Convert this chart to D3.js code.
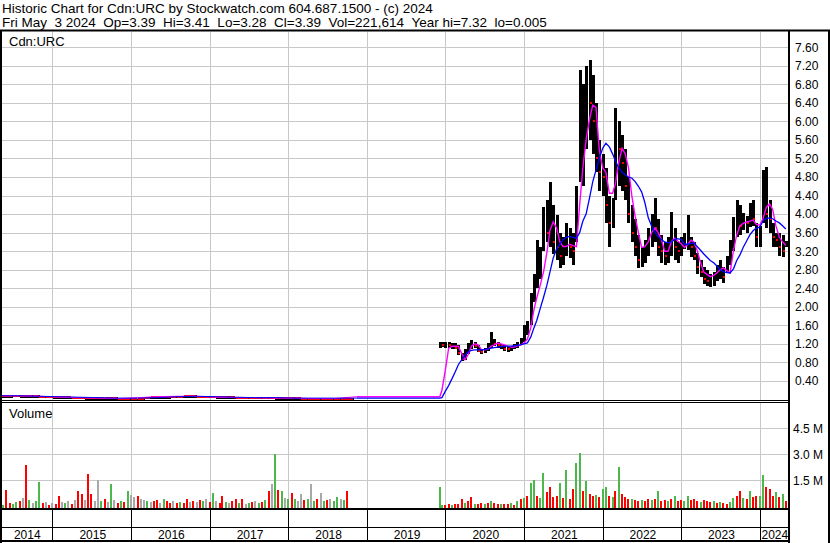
<!DOCTYPE html>
<html><head><meta charset="utf-8">
<script src="https://cdn.jsdelivr.net/npm/d3@7"></script>
<style>
body{margin:0;background:#fff}
svg{display:block}
text{font-family:"Liberation Sans",Arial,Helvetica,sans-serif;fill:#000}
</style></head>
<body><svg id="c" width="830" height="543"></svg>
<script>
// ---------------- DATA ----------------
const header1 = "Historic Chart for Cdn:URC by Stockwatch.com 604.687.1500 - (c) 2024";
const header2 = "Fri May  3 2024  Op=3.39  Hi=3.41  Lo=3.28  Cl=3.39  Vol=221,614  Year hi=7.32  lo=0.005";
const symbolLabel = "Cdn:URC";
const volumeLabel = "Volume";
const priceTicks = [0.4,0.8,1.2,1.6,2.0,2.4,2.8,3.2,3.6,4.0,4.4,4.8,5.2,5.6,6.0,6.4,6.8,7.2,7.6];
const volTicks = [1.5,3.0,4.5];
const volTickLabels = ["1.5 M","3.0 M","4.5 M"];
const years = [2014,2015,2016,2017,2018,2019,2020,2021,2022,2023,2024];

// early period (monthly price from 2014-05, semi-monthly volume from 2014-05-01)
const earlyHi = [0.10,0.09,0.10,0.09,0.10,0.09,0.08,0.08,
  0.07,0.06,0.06,0.06,0.05,0.05,0.05,0.04,0.04,0.05,0.03,0.03,
  0.02,0.03,0.05,0.06,0.06,0.07,0.07,0.08,0.09,0.09,0.08,0.08,
  0.08,0.07,0.07,0.06,0.06,0.06,0.05,0.06,0.06,0.05,0.05,0.05,
  0.05,0.04,0.04,0.04,0.03,0.03,0.03,0.03,0.03,0.03];
const earlyLo = [0.06,0.06,0.07,0.06,0.06,0.05,0.05,0.05,
  0.04,0.04,0.04,0.03,0.03,0.02,0.02,0.02,0.02,0.02,0.01,0.01,
  0.01,0.01,0.03,0.04,0.04,0.04,0.05,0.05,0.06,0.06,0.05,0.05,
  0.05,0.04,0.04,0.04,0.03,0.03,0.03,0.03,0.03,0.03,0.02,0.02,
  0.02,0.02,0.01,0.01,0.01,0.01,0.01,0.01,0.01,0.01];
const earlyCl = [0.08,0.07,0.08,0.07,0.08,0.07,0.06,0.06,
  0.05,0.05,0.05,0.04,0.04,0.03,0.03,0.03,0.03,0.03,0.02,0.02,
  0.01,0.02,0.04,0.05,0.05,0.05,0.06,0.06,0.07,0.07,0.06,0.06,
  0.06,0.05,0.05,0.05,0.04,0.04,0.04,0.04,0.04,0.04,0.03,0.03,
  0.03,0.03,0.02,0.02,0.02,0.02,0.02,0.02,0.02,0.02];
const earlyVol = [0.15,0.10,0.94,0.20,0.15,0.25,0.30,0.50,2.38,0.35,0.20,0.30,1.38,0.20,0.25,0.10,
  0.20,0.15,0.60,0.25,0.20,0.30,0.15,0.35,0.90,0.70,0.35,1.85,0.70,0.30,1.52,0.30,0.40,0.25,1.27,0.35,0.20,0.30,0.25,0.90,
  0.65,0.55,0.60,0.45,0.35,0.30,0.25,0.30,0.35,0.20,0.45,0.30,0.20,0.30,0.20,0.25,0.20,0.40,0.25,0.30,0.25,0.35,0.30,0.45,
  0.25,0.75,0.30,0.20,0.60,0.25,0.20,0.30,0.40,0.20,0.40,0.15,0.20,0.25,0.30,0.20,0.25,0.35,0.86,1.27,3.00,0.95,0.90,0.50,
  0.40,0.75,0.40,0.30,0.70,0.35,0.45,1.27,0.30,0.40,0.75,0.30,0.35,0.40,0.30,0.55,0.40,0.35,0.86];
const earlyDir = [-1,1,-1,-1,1,1,-1,0,-1,1,0,1,1,-1,0,-1,
  0,-1,-1,0,1,0,-1,0,-1,-1,0,-1,-1,0,0,1,-1,0,1,0,-1,1,-1,1,
  0,0,-1,0,0,1,0,-1,-1,0,1,-1,-1,0,-1,1,-1,-1,0,-1,0,-1,1,0,
  -1,1,0,-1,-1,1,0,-1,-1,1,-1,0,1,-1,0,1,-1,1,-1,0,1,-1,1,0,
  1,-1,1,0,0,-1,1,0,1,-1,0,1,-1,0,1,1,0,1,-1];
// early moving averages (quarterly from 2014-05) + flat gap level
const earlyMagenta = [0.08,0.08,0.07,0.05,0.04,0.03,0.02,0.04,0.06,0.07,0.07,0.05,0.04,0.04,0.03,0.03,0.02,0.02,0.06];
const earlyBlue    = [0.08,0.08,0.07,0.06,0.05,0.04,0.03,0.03,0.04,0.06,0.07,0.06,0.05,0.04,0.04,0.03,0.03,0.03,0.03];

// Cdn:URC period (semi-monthly from 2019-12-06)
const lateDates = ["2019-12-06","2019-12-16",
 "2020-01-01","2020-01-16","2020-02-01","2020-02-16","2020-03-01","2020-03-16","2020-04-01","2020-04-16","2020-05-01","2020-05-16","2020-06-01","2020-06-16",
 "2020-07-01","2020-07-16","2020-08-01","2020-08-16","2020-09-01","2020-09-16","2020-10-01","2020-10-16","2020-11-01","2020-11-16","2020-12-01","2020-12-16",
 "2021-01-01","2021-01-16","2021-02-01","2021-02-16","2021-03-01","2021-03-16","2021-04-01","2021-04-16","2021-05-01","2021-05-16","2021-06-01","2021-06-16",
 "2021-07-01","2021-07-16","2021-08-01","2021-08-16","2021-09-01","2021-09-16","2021-10-01","2021-10-16","2021-11-01","2021-11-16","2021-12-01","2021-12-16",
 "2022-01-01","2022-01-16","2022-02-01","2022-02-16","2022-03-01","2022-03-16","2022-04-01","2022-04-16","2022-05-01","2022-05-16","2022-06-01","2022-06-16",
 "2022-07-01","2022-07-16","2022-08-01","2022-08-16","2022-09-01","2022-09-16","2022-10-01","2022-10-16","2022-11-01","2022-11-16","2022-12-01","2022-12-16",
 "2023-01-01","2023-01-16","2023-02-01","2023-02-16","2023-03-01","2023-03-16","2023-04-01","2023-04-16","2023-05-01","2023-05-16","2023-06-01","2023-06-16",
 "2023-07-01","2023-07-16","2023-08-01","2023-08-16","2023-09-01","2023-09-16","2023-10-01","2023-10-16","2023-11-01","2023-11-16","2023-12-01","2023-12-16",
 "2024-01-01","2024-01-16","2024-02-01","2024-02-16","2024-03-01","2024-03-16","2024-04-01","2024-04-16","2024-05-01"];
const lateHi = [1.25,1.25,
 1.25,1.24,1.22,1.22,1.18,1.00,1.10,1.22,1.28,1.25,1.18,1.10,1.12,1.22,1.46,1.30,1.25,1.20,1.18,1.15,1.15,1.20,1.25,1.32,
 1.60,1.70,2.30,2.70,3.45,3.30,4.15,4.30,4.70,4.20,3.98,3.60,3.50,3.80,3.70,3.60,4.60,7.10,6.80,7.20,7.32,7.00,6.40,5.60,
 5.30,5.00,4.40,4.35,6.30,6.00,5.70,5.40,4.80,4.20,3.90,3.55,3.30,3.45,3.70,4.00,4.35,3.90,3.55,3.40,3.50,4.05,3.70,3.40,
 3.50,3.60,3.98,3.50,3.40,3.16,3.00,2.86,2.80,2.70,2.75,2.90,3.00,2.85,3.10,3.44,3.94,4.30,4.20,4.02,3.95,4.25,4.30,3.80,
 3.75,4.95,5.02,4.30,3.81,3.60,3.59,3.55,3.41];
const lateLo = [1.12,1.14,
 1.12,1.12,1.10,1.08,0.95,0.82,0.85,0.98,1.10,1.12,1.02,0.98,1.00,1.05,1.12,1.15,1.12,1.10,1.05,1.02,1.05,1.08,1.12,1.18,
 1.25,1.40,1.60,2.10,2.40,2.60,3.20,3.40,3.30,3.15,3.00,2.84,2.90,3.10,3.05,2.90,3.40,4.70,4.60,5.40,5.60,5.30,4.90,4.50,
 4.40,3.80,3.30,3.70,4.30,4.60,4.50,4.30,3.80,3.40,3.10,2.84,2.85,2.95,3.10,3.30,3.40,3.10,2.95,2.90,2.95,3.10,3.00,2.95,
 3.10,3.25,3.22,3.07,3.00,2.70,2.64,2.50,2.45,2.43,2.45,2.55,2.60,2.51,2.73,2.90,3.20,3.50,3.55,3.66,3.60,3.72,3.75,3.29,
 3.29,3.80,3.70,3.59,3.29,3.30,3.10,3.07,3.28];
const lateCl = [1.20,1.18,
 1.20,1.17,1.18,1.12,1.00,0.88,1.05,1.15,1.20,1.15,1.05,1.03,1.08,1.15,1.25,1.20,1.18,1.15,1.10,1.08,1.12,1.15,1.20,1.28,
 1.50,1.55,2.10,2.50,2.70,3.00,3.80,3.60,3.90,3.40,3.30,3.10,3.30,3.50,3.30,3.20,4.40,5.50,5.80,6.50,6.40,6.00,5.20,4.90,
 4.80,4.20,3.80,4.10,5.60,5.40,5.10,4.60,4.00,3.60,3.30,3.00,3.10,3.30,3.50,3.80,3.70,3.30,3.20,3.10,3.30,3.60,3.30,3.20,
 3.30,3.40,3.50,3.30,3.10,2.85,2.75,2.60,2.55,2.55,2.65,2.75,2.80,2.65,2.90,3.20,3.70,3.80,3.75,3.85,3.80,4.00,3.90,3.50,
 3.60,4.60,4.00,3.90,3.50,3.45,3.30,3.20,3.39];
const lateMagenta = [0.06,0.20,
 0.64,1.10,1.15,1.15,1.15,1.00,0.86,0.97,1.15,1.20,1.18,1.08,1.07,1.08,1.15,1.18,1.22,1.20,1.18,1.15,1.13,1.13,1.16,1.18,
 1.22,1.30,1.55,1.95,2.20,2.45,2.75,3.15,3.65,3.83,3.70,3.40,3.30,3.30,3.35,3.32,3.30,4.20,5.00,5.60,6.05,6.35,6.30,5.40,
 5.00,4.90,4.45,4.45,4.65,5.10,5.42,5.30,5.00,4.41,3.95,3.60,3.28,3.30,3.40,3.60,3.70,3.60,3.45,3.20,3.20,3.40,3.48,3.42,
 3.36,3.28,3.35,3.44,3.40,3.22,2.95,2.75,2.70,2.65,2.68,2.73,2.80,2.84,2.78,2.73,3.22,3.55,3.75,3.80,3.83,3.85,3.87,3.78,
 3.76,3.90,4.15,4.22,4.10,3.75,3.50,3.40,3.33];
const lateBlue = [0.03,0.04,
 0.18,0.30,0.45,0.60,0.75,0.85,0.95,1.03,1.06,1.07,1.07,1.07,1.08,1.09,1.11,1.12,1.13,1.14,1.15,1.15,1.15,1.16,1.17,1.18,
 1.20,1.22,1.35,1.55,1.71,1.95,2.20,2.45,2.75,3.05,3.25,3.35,3.45,3.50,3.52,3.50,3.48,3.60,3.85,4.00,4.35,4.70,4.95,5.20,
 5.42,5.53,5.45,5.30,5.15,5.00,4.90,4.85,4.80,4.78,4.70,4.60,4.48,4.25,3.92,3.75,3.60,3.52,3.45,3.40,3.38,3.40,3.45,3.47,
 3.45,3.35,3.35,3.37,3.38,3.30,3.22,3.14,3.07,3.00,2.95,2.88,2.80,2.76,2.74,2.73,2.82,3.00,3.12,3.28,3.42,3.55,3.64,3.70,
 3.72,3.85,3.91,3.92,3.90,3.85,3.81,3.75,3.68];
const lateVol = [1.14,0.08,
 0.10,0.12,0.10,0.12,0.15,0.40,0.20,0.30,0.52,0.15,0.12,0.20,0.15,0.18,0.30,0.20,0.15,0.12,0.15,0.12,0.18,0.10,0.30,0.40,
 0.50,0.60,1.33,1.50,0.60,0.50,1.90,0.80,1.14,0.55,0.60,1.35,0.50,2.10,0.40,1.00,2.50,3.10,0.90,1.45,0.70,0.60,0.65,0.55,
 1.00,1.14,0.60,0.55,0.90,2.25,0.70,0.55,0.40,0.45,0.35,0.30,0.35,0.30,0.40,0.35,0.45,0.88,0.30,0.35,0.30,0.45,0.60,0.30,
 0.35,0.30,0.60,0.35,0.40,0.30,0.25,0.35,0.30,0.25,0.30,0.20,0.25,0.20,0.15,0.25,0.50,0.60,0.90,0.50,0.45,0.90,0.55,0.60,
 0.60,1.80,1.10,1.00,0.60,0.80,0.55,0.70,0.30];
const lateDir = [1,1,
 -1,-1,1,-1,-1,-1,1,-1,-1,1,-1,-1,1,-1,1,-1,-1,1,-1,-1,1,-1,1,-1,
 1,-1,1,1,-1,1,1,-1,-1,-1,-1,1,-1,1,-1,-1,1,1,-1,1,-1,-1,1,-1,
 1,1,-1,1,-1,1,-1,-1,-1,1,-1,-1,1,-1,-1,1,-1,1,-1,-1,1,-1,1,-1,
 -1,1,1,-1,-1,-1,1,-1,-1,-1,1,-1,1,-1,-1,1,1,-1,-1,1,-1,1,-1,-1,
 1,1,-1,-1,-1,1,-1,1,-1];

// ---------------- HELPERS ----------------
const parse = d3.utcParse("%Y-%m-%d");
function semiMonthly(start, n){ const out=[]; let d=parse(start);
  for(let i=0;i<n;i++){ out.push(d); d = d.getUTCDate()===1 ? new Date(Date.UTC(d.getUTCFullYear(), d.getUTCMonth(), 16)) : d3.utcMonth.offset(d3.utcMonth.floor(d),1); }
  return out; }
const earlyPriceDates = d3.utcMonth.range(parse("2014-05-01"), parse("2018-11-01")).map(d=>new Date(+d + 14*864e5));
const earlyVolDates = semiMonthly("2014-05-01", earlyVol.length);
const earlyMAd = []; for(let i=0;i<18;i++) earlyMAd.push(d3.utcMonth.offset(parse("2014-05-01"), 3*i)); earlyMAd.push(parse("2018-11-15"));
const lateD = lateDates.map(parse);
const nb = s => s.replace(/ /g, "\u00A0");

// ---------------- SCALES ----------------
const svg = d3.select("#c");
const L = 2, R = 788;
const x = d3.scaleUtc().domain([Date.UTC(2014,4,2), Date.UTC(2024,4,16)]).range([0,789]);
const yP = d3.scaleLinear().domain([0,7.6]).range([399.5,47.25]);
const yV = d3.scaleLinear().domain([0,4.5]).range([506.3,428.3]);
const px = v => Math.round(v);
const GRID = "#c8c8c8";

// ---------------- HEADER ----------------
svg.append("text").attr("x",2).attr("y",13).attr("font-size",13.5).text(nb(header1));
svg.append("text").attr("x",2).attr("y",27).attr("font-size",13.5).text(nb(header2));

// ---------------- GRIDS ----------------
const yearDates = years.map(y=>new Date(Date.UTC(y,0,1)));
const gridYears = yearDates.filter(d=>x(d)>1 && x(d)<R);
const grid = svg.append("g");
grid.selectAll(".hp").data(priceTicks).join("line")
  .attr("x1",L).attr("x2",R).attr("y1",d=>px(yP(d))+0.5).attr("y2",d=>px(yP(d))+0.5).attr("stroke",GRID);
grid.selectAll(".vp").data(gridYears).join("line")
  .attr("x1",d=>px(x(d))+0.5).attr("x2",d=>px(x(d))+0.5).attr("y1",32).attr("y2",400).attr("stroke",GRID);
grid.selectAll(".hv").data(volTicks).join("line")
  .attr("x1",L).attr("x2",R).attr("y1",d=>px(yV(d))+0.5).attr("y2",d=>px(yV(d))+0.5).attr("stroke",GRID);
grid.selectAll(".vv").data(gridYears).join("line")
  .attr("x1",d=>px(x(d))+0.5).attr("x2",d=>px(x(d))+0.5).attr("y1",403).attr("y2",508).attr("stroke",GRID);

// ---------------- PRICE ----------------
const early = earlyPriceDates.map((d,i)=>({d,hi:earlyHi[i],lo:earlyLo[i],cl:earlyCl[i]}));
const late = lateD.map((d,i)=>({d,hi:lateHi[i],lo:lateLo[i],cl:lateCl[i],prev:i>0?lateCl[i-1]:lateCl[i]}));
const gP = svg.append("g");
gP.selectAll(".eb").data(early).join("rect")
  .attr("x",d=>px(x(d.d))-3).attr("width",7)
  .attr("y",d=>px(yP(d.hi))).attr("height",d=>Math.max(1,px(yP(d.lo))-px(yP(d.hi))+1)).attr("fill","#000");

const magPts = earlyMAd.map((d,i)=>({d,v:earlyMagenta[i]})).concat(lateD.map((d,i)=>({d,v:lateMagenta[i]})));
const bluPts = earlyMAd.map((d,i)=>({d,v:earlyBlue[i]})).concat(lateD.map((d,i)=>({d,v:lateBlue[i]})));
const line = d3.line().x(d=>x(d.d)).y(d=>yP(d.v));
const gL = svg.append("g");
gL.append("path").datum(magPts.slice(0,19)).attr("d",line).attr("fill","none").attr("stroke","#ff00ff").attr("stroke-width",1);
gL.append("path").datum(bluPts.slice(0,19)).attr("d",line).attr("fill","none").attr("stroke","#0000ff").attr("stroke-width",1);

gP.append("g").selectAll("rect").data(early).join("rect")
  .attr("x",d=>px(x(d.d))-3).attr("width",6)
  .attr("y",d=>px(yP(d.cl))-1).attr("height",2).attr("fill","#ff0000");
gP.append("g").selectAll("rect").data(late).join("rect")
  .attr("x",d=>px(x(d.d))-1).attr("width",3)
  .attr("y",d=>px(yP(d.hi))).attr("height",d=>Math.max(1,px(yP(d.lo))-px(yP(d.hi)))).attr("fill","#000");
gP.append("g").selectAll("rect").data(late.filter(d=>d.cl<d.prev)).join("rect")
  .attr("x",d=>px(x(d.d))).attr("width",2)
  .attr("y",d=>px(yP(d.cl))-1).attr("height",2).attr("fill","#ff0000");

const gL2 = svg.append("g");
gL2.append("path").datum(magPts.slice(18)).attr("d",line).attr("fill","none").attr("stroke","#ff00ff").attr("stroke-width",1.4);
gL2.append("path").datum(bluPts.slice(18)).attr("d",line).attr("fill","none").attr("stroke","#0000ff").attr("stroke-width",1.3);

// ---------------- VOLUME ----------------
const volColor = {"1":"#4cb84c","-1":"#ff0000","0":"#a8a8a8"};
const vols = earlyVolDates.map((d,i)=>({d,v:earlyVol[i],c:earlyDir[i]})).concat(lateD.map((d,i)=>({d,v:lateVol[i],c:lateDir[i]})));
svg.append("g").selectAll("rect").data(vols).join("rect")
  .attr("x",d=>px(x(d.d))-1).attr("width",2)
  .attr("y",d=>px(yV(d.v))).attr("height",d=>508-px(yV(d.v))).attr("fill",d=>volColor[d.c]);

// ---------------- FRAME ----------------
const fr = svg.append("g");
fr.append("rect").attr("x",0).attr("y",29.5).attr("width",830).attr("height",2).attr("fill","#000");
fr.append("rect").attr("x",0).attr("y",30).attr("width",2).attr("height",513).attr("fill","#000");
fr.append("rect").attr("x",788).attr("y",30).attr("width",2).attr("height",513).attr("fill","#000");
fr.append("rect").attr("x",828).attr("y",30).attr("width",2).attr("height",513).attr("fill","#000");
fr.append("rect").attr("x",0).attr("y",400).attr("width",790).attr("height",1).attr("fill","#000");
fr.append("rect").attr("x",0).attr("y",402).attr("width",790).attr("height",1).attr("fill","#000");
fr.append("rect").attr("x",0).attr("y",508).attr("width",790).attr("height",2).attr("fill","#000");
fr.append("rect").attr("x",0).attr("y",527).attr("width",790).attr("height",1).attr("fill","#000");
fr.append("rect").attr("x",0).attr("y",540).attr("width",790).attr("height",2).attr("fill","#000");

// x axis rows: year separators
fr.selectAll(".ys").data(gridYears).join("rect")
  .attr("x",d=>px(x(d))).attr("width",1).attr("y",510).attr("height",30).attr("fill","#000");
const spans = years.map(y=>({y, a:Math.max(0,x(new Date(Date.UTC(y,0,1)))), b:Math.min(788,x(new Date(Date.UTC(y+1,0,1))))}));
svg.append("g").selectAll("text").data(spans).join("text")
  .attr("x",d=>(d.a+d.b)/2+1).attr("y",539).attr("text-anchor","middle").attr("font-size",12).text(d=>d.y);

// ---------------- AXIS LABELS ----------------
const axP = svg.append("g").attr("transform","translate(793,0)")
  .call(d3.axisRight(yP).tickValues(priceTicks).tickSize(0).tickPadding(2).tickFormat(d3.format(".2f")));
axP.select(".domain").remove();
axP.selectAll("text").attr("font-size",12).attr("font-family","Liberation Sans, Arial, sans-serif").attr("fill","#000");
const axV = svg.append("g").attr("transform","translate(791,0)")
  .call(d3.axisRight(yV).tickValues(volTicks).tickSize(0).tickPadding(2).tickFormat((d,i)=>volTickLabels[i]));
axV.select(".domain").remove();
axV.selectAll("text").attr("font-size",12).attr("font-family","Liberation Sans, Arial, sans-serif").attr("fill","#000");

svg.append("text").attr("x",9).attr("y",46).attr("font-size",13).text(symbolLabel);
svg.append("text").attr("x",9).attr("y",418).attr("font-size",13).text(volumeLabel);
</script></body></html>
